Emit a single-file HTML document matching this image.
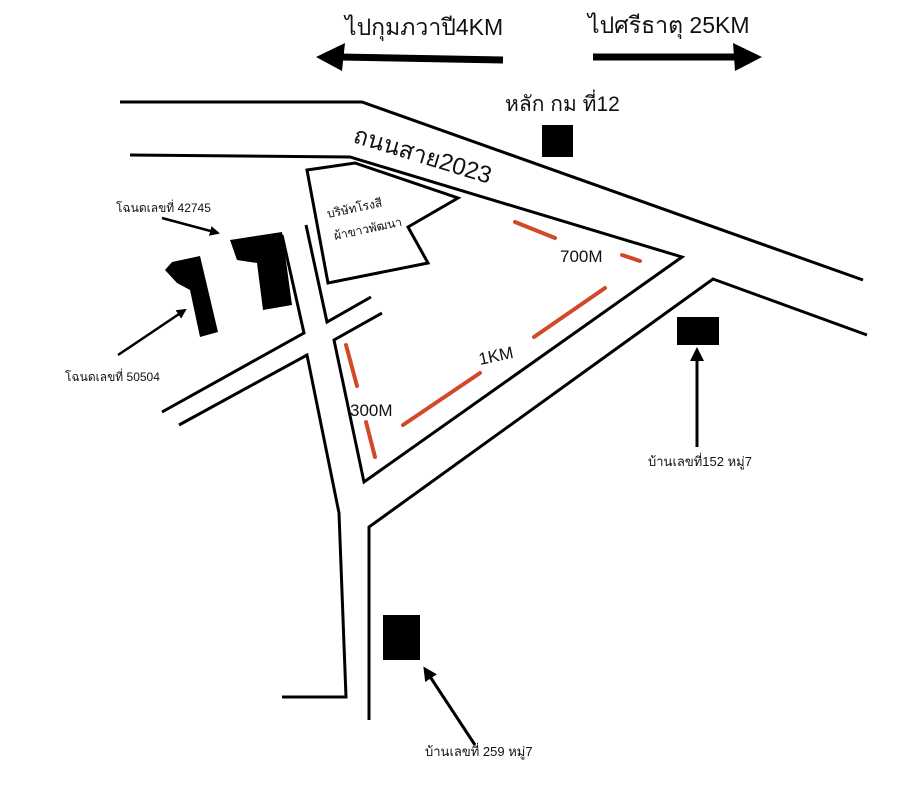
<!DOCTYPE html>
<html><head><meta charset="utf-8"><style>
html,body{margin:0;padding:0;background:#fff;}
svg{display:block;}
text{font-family:"Liberation Sans","Noto Sans CJK SC",sans-serif;fill:#111;}
</style></head><body>
<svg width="908" height="800" viewBox="0 0 908 800" xmlns="http://www.w3.org/2000/svg">
<rect width="908" height="800" fill="#fff"/>
<defs>
<marker id="ah" markerWidth="10" markerHeight="10" refX="8" refY="5" orient="auto" markerUnits="userSpaceOnUse"><path d="M0,0 L10,5 L0,10 Z" fill="#000"/></marker>
<marker id="ah2" markerWidth="14" markerHeight="14" refX="11" refY="7" orient="auto" markerUnits="userSpaceOnUse"><path d="M0,0 L14,7 L0,14 Z" fill="#000"/></marker>
</defs>
<g fill="none" stroke="#000" stroke-width="3" stroke-linejoin="miter">
<polyline points="120,102 362,102 863,280"/>
<polyline points="130,155 350,157 682,257 364,482 334,340 382,313"/>
<polyline points="369,720 369,527 713,279 867,335"/>
<polyline points="282,235 304,333 162,412"/>
<polyline points="306,225 327,322 371,297"/>
<polyline points="179,425 307,355 339,513 346,697 282,697"/>
<polygon points="307,170 355,163 458,198 408,227 428,263 328,283"/>
</g>
<line x1="503" y1="60" x2="340" y2="57" stroke="#000" stroke-width="7"/>
<polygon points="316,57 345,43 342,71" fill="#000"/>
<line x1="593" y1="57" x2="740" y2="57" stroke="#000" stroke-width="7"/>
<polygon points="762,57 733,43 735,71" fill="#000"/>
<text x="345" y="35" font-size="23">ไปกุมภวาปี4KM</text>
<text x="588" y="33" font-size="23">ไปศรีธาตุ 25KM</text>
<text x="505" y="111" font-size="21">หลัก กม ที่12</text>
<rect x="542" y="125" width="31" height="32" fill="#000"/>
<text x="352" y="142" font-size="24" transform="rotate(17 352 142)">ถนนสาย2023</text>
<text x="328" y="218" font-size="12" transform="rotate(-12 328 218)">บริษัทโรงสี</text>
<text x="335" y="240" font-size="12" transform="rotate(-12 335 240)">ผ้าขาวพัฒนา</text>
<polygon points="165,270 172,262 200,256 218,332 200,337 190,290 177,283" fill="#000"/>
<polygon points="230,240 282,232 292,305 263,310 257,263 237,260" fill="#000"/>
<text x="116" y="212" font-size="12">โฉนดเลขที่ 42745</text>
<line x1="162" y1="218" x2="218" y2="233" stroke="#000" stroke-width="2.5" marker-end="url(#ah)"/>
<text x="65" y="381" font-size="12">โฉนดเลขที่ 50504</text>
<line x1="118" y1="355" x2="185" y2="310" stroke="#000" stroke-width="2.5" marker-end="url(#ah)"/>
<g stroke="#d2492a" stroke-width="4" stroke-linecap="round">
<line x1="346" y1="345" x2="357" y2="386"/>
<line x1="366" y1="422" x2="375" y2="457"/>
<line x1="403" y1="425" x2="480" y2="373"/>
<line x1="534" y1="337" x2="605" y2="288"/>
<line x1="515" y1="222" x2="555" y2="238"/>
<line x1="622" y1="255" x2="640" y2="261"/>
</g>
<text x="350" y="416" font-size="17">300M</text>
<text x="480" y="365" font-size="17" transform="rotate(-12 480 365)">1KM</text>
<text x="560" y="262" font-size="17">700M</text>
<rect x="677" y="317" width="42" height="28" fill="#000"/>
<line x1="697" y1="447" x2="697" y2="350" stroke="#000" stroke-width="3" marker-end="url(#ah2)"/>
<text x="648" y="466" font-size="13">บ้านเลขที่152 หมู่7</text>
<rect x="383" y="615" width="37" height="45" fill="#000"/>
<line x1="475" y1="745" x2="425" y2="669" stroke="#000" stroke-width="3" marker-end="url(#ah2)"/>
<text x="425" y="756" font-size="13">บ้านเลขที่ 259 หมู่7</text>
</svg>
</body></html>
